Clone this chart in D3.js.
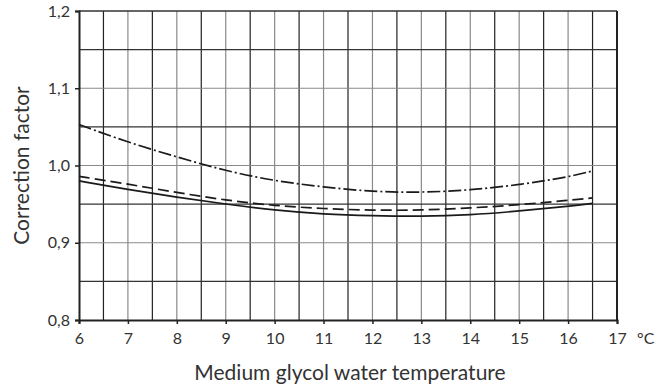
<!DOCTYPE html>
<html>
<head>
<meta charset="utf-8">
<script src="https://cdn.jsdelivr.net/npm/d3@7"></script>
<style>
  body { margin: 0; background: #fff; }
  text { font-family: Lato, "Open Sans", sans-serif; fill: #333; }
</style>
</head>
<body>
<div id="chart"></div>
<script>
// Data
const temps = [6, 7, 8, 9, 10, 11, 12, 13, 14, 15, 16, 16.5];
const dashDot = [1.053, 1.030, 1.011, 0.993, 0.980, 0.972, 0.966, 0.965, 0.968, 0.975, 0.985, 0.993];
const dashed = [0.986, 0.976, 0.965, 0.955, 0.948, 0.944, 0.942, 0.942, 0.945, 0.949, 0.955, 0.958];
const solid = [0.980, 0.969, 0.959, 0.950, 0.942, 0.937, 0.935, 0.934, 0.936, 0.941, 0.947, 0.951];
const xTicks = [6, 7, 8, 9, 10, 11, 12, 13, 14, 15, 16, 17];
const yTicks = [0.8, 0.9, 1.0, 1.1, 1.2];

const width = 657, height = 388;
const margin = { top: 11, right: 40, bottom: 68, left: 79 };

const svg = d3.select('#chart')
	.append('svg')
	.attr('width', width)
	.attr('height', height);

const x = d3.scaleLinear().domain([6, 17]).range([margin.left, width - margin.right]);
const y = d3.scaleLinear().domain([0.8, 1.2]).range([height - margin.bottom, margin.top]);

const fmt = d => d.toFixed(1).replace('.', ',');

// Grid: half steps dark, whole steps gray
const grid = svg.append('g').attr('class', 'grid');
d3.range(6.5, 17, 0.5).forEach(v => {
	grid.append('line')
		.attr('x1', x(v)).attr('x2', x(v))
		.attr('y1', y(0.8)).attr('y2', y(1.2))
		.attr('stroke', Number.isInteger(v) ? '#8a8a8a' : '#222')
		.attr('stroke-width', 1.2);
});
d3.range(0.85, 1.2, 0.05).forEach(v => {
	const major = Math.abs(v * 10 - Math.round(v * 10)) < 1e-6;
	grid.append('line')
		.attr('x1', x(6)).attr('x2', x(17))
		.attr('y1', y(v)).attr('y2', y(v))
		.attr('stroke', major ? '#8a8a8a' : '#333')
		.attr('stroke-width', 1.2);
});

// Frame
svg.append('line')
	.attr('x1', x(6)).attr('x2', x(17)).attr('y1', y(1.2)).attr('y2', y(1.2))
	.attr('stroke', '#333').attr('stroke-width', 1.5);
svg.append('line')
	.attr('x1', x(17)).attr('x2', x(17)).attr('y1', y(1.2)).attr('y2', y(0.8))
	.attr('stroke', '#222').attr('stroke-width', 2);

// Axes
const xAxis = svg.append('g')
	.attr('transform', `translate(0, ${y(0.8)})`)
	.call(d3.axisBottom(x).tickValues(xTicks).tickSize(4).tickPadding(9).tickFormat(d => d));
const yAxis = svg.append('g')
	.attr('transform', `translate(${x(6)}, 0)`)
	.call(d3.axisLeft(y).tickValues(yTicks).tickSize(4).tickPadding(5).tickFormat(fmt));

[xAxis, yAxis].forEach(a => {
	a.attr('font-size', null).attr('font-family', null);
	a.select('.domain').attr('stroke', '#222').attr('stroke-width', 2);
	a.selectAll('.tick line').attr('stroke', '#222').attr('stroke-width', 1.5);
	a.selectAll('.tick text')
		.style('font-size', '16px')
		.style('font-family', 'Lato, "Open Sans", sans-serif')
		.attr('fill', '#333');
});

svg.append('text')
	.attr('x', x(17) + 20)
	.attr('y', y(0.8) + 13)
	.attr('dy', '0.71em')
	.style('font-size', '16px')
	.text('°C');

// Axis titles
svg.append('text')
	.attr('x', (x(6) + x(17)) / 2 + 2)
	.attr('y', height - 8)
	.attr('text-anchor', 'middle')
	.style('font-size', '21px')
	.text('Medium glycol water temperature');

svg.append('text')
	.attr('transform', `translate(29, ${(y(0.8) + y(1.2)) / 2}) rotate(-90)`)
	.attr('text-anchor', 'middle')
	.style('font-size', '21px')
	.text('Correction factor');

// Curves
const series = [
	{ values: dashDot, dash: '13,3,2,3' },
	{ values: dashed, dash: '11,5' },
	{ values: solid, dash: null }
];

const line = d3.line()
	.x(d => x(d[0]))
	.y(d => y(d[1]))
	.curve(d3.curveBasis);

series.forEach(s => {
	svg.append('path')
		.datum(temps.map((t, i) => [t, s.values[i]]))
		.attr('d', line)
		.attr('fill', 'none')
		.attr('stroke', '#1a1a1a')
		.attr('stroke-width', 1.7)
		.attr('stroke-dasharray', s.dash);
});
</script>
</body>
</html>
